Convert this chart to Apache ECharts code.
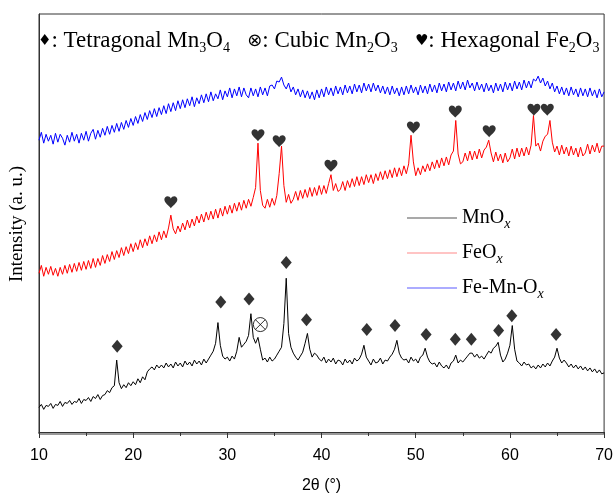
<!DOCTYPE html>
<html>
<head>
<meta charset="utf-8">
<script src="https://cdn.jsdelivr.net/npm/echarts@6/dist/echarts.min.js"></script>
<style>
html,body{margin:0;padding:0;background:#fff;}
#chart{width:616px;height:499px;}
</style>
</head>
<body>
<div id="chart"></div>
<script>
// 2θ scan: start 10°, step 0.25°, 241 points to 70°
const scanStart = 10;
const scanStep = 0.25;

// MnOx (black), intensity a.u.
const mnOx = [
25,28,23,27, 26,29,24,28, 27,31,26,30, 29,32,28,31, 30,34,29,33,
32,35,31,36, 34,38,33,37, 38,42,40,45, 47,73,50,44, 48,45,50,47,
51,48,54,50, 56,53,61,64, 66,63,68,65, 68,65,70,66, 69,65,71,67,
70,66,72,68, 71,67,73,69, 72,68,74,70, 74,78,82,90, 111,88,77,74,
76,72,77,74, 82,96,86,89, 92,98,120,96, 90,96,84,73, 75,71,76,72,
74,78,82,86, 110,156,100,86, 80,76,73,77, 81,90,100,84, 76,80,78,74,
72,76,70,74, 71,75,69,73, 72,68,74,70, 73,69,75,72, 74,79,88,76,
72,68,74,70, 71,75,69,73, 72,76,79,84, 93,80,75,73, 74,70,76,72,
74,70,76,78, 85,76,71,69, 70,66,71,67, 65,68,64,70, 72,78,70,73,
71,74,77,80, 80,76,79,75, 77,74,78,82, 80,85,87,91, 78,71,74,80,
88,108,84,72, 70,67,71,68, 69,65,67,64, 68,65,69,66, 70,67,72,76,
85,75,70,73, 70,66,69,65, 68,64,67,63, 66,62,65,61, 64,60,63,59,
60
];

// FeOx (red)
const feOx = [
161,169,158,167, 160,168,159,166, 158,167,160,169, 161,170,162,171, 163,172,164,173,
165,174,166,176, 167,176,169,179, 171,180,173,183, 175,184,177,187, 179,188,181,191,
183,192,185,195, 187,196,189,199, 191,200,193,203, 195,204,197,207, 220,206,201,209,
203,212,205,215, 207,216,209,219, 212,221,213,223, 215,224,216,226, 217,227,219,229,
221,230,222,232, 224,233,225,235, 227,236,229,238, 248,293,245,230, 227,236,228,237,
230,240,262,290, 250,233,241,232, 236,244,235,245, 237,246,238,248, 239,248,240,250,
241,250,242,252, 261,245,252,244, 246,254,245,255, 248,257,249,259, 250,259,251,261,
253,261,252,262, 255,264,256,265, 257,266,258,268, 259,268,260,270, 262,272,301,274,
260,268,261,270, 264,272,265,274, 267,276,268,278, 270,279,271,281, 285,316,282,272,
274,283,275,285, 276,285,277,287, 278,286,289,296, 283,274,284,275, 282,273,283,274,
278,287,277,288, 279,288,280,289, 281,291,321,290, 293,285,295,300, 302,316,294,284,
290,281,291,282, 289,280,290,281, 288,279,289,280, 283,292,282,291, 284,293,283,290,
290
];

// Fe-Mn-Ox (blue)
const feMnOx = [
296,304,293,302, 295,301,292,303, 294,302,298,291, 301,294,304,295, 302,293,303,296,
305,295,303,307, 297,306,299,308, 301,310,302,311, 304,313,305,314, 307,316,309,318,
311,320,313,322, 315,324,317,326, 319,328,320,329, 322,331,323,333, 325,334,326,336,
328,337,329,338, 331,340,330,339, 333,342,334,343, 335,345,336,343, 338,347,337,346,
340,349,339,348, 341,350,340,349, 342,339,349,341, 348,340,350,342, 349,341,351,352,
348,356,355,360, 352,348,354,345, 350,342,348,340, 347,339,346,338, 345,337,347,339,
348,340,350,342, 349,341,351,343, 350,342,352,344, 351,343,353,345, 352,344,354,346,
353,345,354,346, 352,344,351,343, 350,342,351,343, 349,341,350,342, 351,343,352,344,
350,342,352,344, 351,343,353,345, 352,344,354,346, 353,345,355,347, 354,346,356,348,
355,347,357,349, 354,346,355,347, 353,345,354,346, 352,344,354,346, 353,345,355,347,
354,346,356,348, 355,347,357,349, 356,349,358,356, 361,354,359,351, 356,348,354,345,
351,343,350,342, 349,341,350,342, 348,340,349,341, 348,340,349,341, 347,339,348,340,
345
];

// Phase markers [2θ, intensity]
const tetragonalMn3O4 = [[18.3,87],[29.3,132],[32.3,135],[36.25,172],[38.4,114],[44.8,104],[47.8,108],[51.1,99],[54.2,94],[55.9,94],[58.8,103],[60.2,118],[64.9,99]];
const cubicMn2O3 = [[33.5,109]];
const hexagonalFe2O3 = [[24.0,233],[33.25,301],[35.5,295],[41.0,270],[49.75,309],[54.2,325],[57.8,305],[62.55,327],[63.97,327]];

const seriesNames = ['MnOx','FeOx','Fe-Mn-Ox'];
const seriesColors = ['#000000','#ff0000','#0000ff'];
const legendLineColors = ['#8c8c8c','#ffb0b0','#9090ff'];

const toPairs = arr => arr.map((v,i) => [scanStart + i*scanStep, v]);

const serif = "'Liberation Serif','Times New Roman',serif";
const sans = "'Liberation Sans',Arial,sans-serif";

const heart = 'path://M12,21 C9,17 1,12 1,6.5 C1,3.2 3.5,1 6.3,1 C8.8,1 10.9,2.5 12,4.8 C13.1,2.5 15.2,1 17.7,1 C20.5,1 23,3.2 23,6.5 C23,12 15,17 12,21 Z';
const otimes = 'path://M0,10 A10,10 0 1,1 20,10 A10,10 0 1,1 0,10 Z M2.9,2.9 L17.1,17.1 M17.1,2.9 L2.9,17.1';

const chart = echarts.init(document.getElementById('chart'), null, {renderer:'canvas'});

const richTop = {
  n: {fontFamily: serif, fontSize: 23, fontWeight: 'normal', color:'#000', lineHeight: 28},
  s: {fontFamily: serif, fontSize: 14, fontWeight: 'normal', color:'#000', lineHeight: 12, verticalAlign:'bottom'},
  g: {fontFamily: "'DejaVu Sans',sans-serif", fontSize: 15, fontWeight: 'normal', color:'#000', lineHeight: 28},
  c: {fontFamily: "'DejaVu Sans',sans-serif", fontSize: 18, fontWeight: 'normal', color:'#000', lineHeight: 28}
};
const richLegend = {
  n: {fontFamily: serif, fontSize: 20, color:'#000', lineHeight: 26},
  x: {fontFamily: serif, fontSize: 14, fontStyle:'italic', color:'#000', lineHeight: 12, verticalAlign:'bottom'}
};

const option = {
  animation: false,
  backgroundColor: '#fff',
  title: {
    left: 38, top: 27, padding: 0,
    text: '{g|♦}{n|: Tetragonal Mn}{s|3}{n|O}{s|4}{n|   }{c|⊗}{n|: Cubic Mn}{s|2}{n|O}{s|3}{n|   }{g|♥}{n|: Hexagonal Fe}{s|2}{n|O}{s|3}',
    textStyle: {fontWeight: 'normal', rich: richTop}
  },
  legend: {
    orient: 'vertical',
    left: 407, top: 208, padding: 0,
    itemWidth: 50, itemHeight: 1.5, itemGap: 12,
    icon: 'rect',
    data: seriesNames.map((n,i) => ({name: n, itemStyle:{color: legendLineColors[i]}, lineStyle:{color: legendLineColors[i]}})),
    formatter: name => '{n|' + name.slice(0, -1) + '}{x|x}',
    textStyle: {rich: richLegend}
  },
  grid: {left: 36, right: 11, top: 14, bottom: 59, show: true, borderColor: '#333', borderWidth: 1},
  xAxis: {
    type: 'value', min: 10, max: 70, interval: 10,
    axisLine: {lineStyle: {color: '#333', width: 1}},
    axisTick: {show: true, inside: false, length: 6, lineStyle: {color:'#333'}},
    minorTick: {show: true, splitNumber: 2, length: 4, lineStyle: {color:'#333'}},
    splitLine: {show: false},
    axisLabel: {fontFamily: sans, fontSize: 16, color: '#000', margin: 14},
    name: '2θ (°)', nameLocation: 'middle', nameGap: 44,
    nameTextStyle: {fontFamily: sans, fontSize: 16, color: '#000'}
  },
  yAxis: {
    type: 'value', min: -2, max: 424,
    axisLine: {show: true, lineStyle: {color: '#333', width: 1}},
    axisTick: {show: false}, axisLabel: {show: false}, splitLine: {show: false},
    name: 'Intensity (a. u.)', nameLocation: 'middle', nameGap: 12, nameRotate: 90,
    nameTextStyle: {fontFamily: serif, fontSize: 19, color: '#000'}
  },
  series: [
    ...[mnOx, feOx, feMnOx].map((arr,i) => ({
      name: seriesNames[i], type: 'line', data: toPairs(arr), showSymbol: false,
      lineStyle: {color: seriesColors[i], width: 1}, itemStyle: {color: seriesColors[i]},
      z: 2
    })),
    {type: 'scatter', data: tetragonalMn3O4, symbol: 'diamond', symbolSize: [11, 13], itemStyle: {color: '#000'}, z: 5},
    {type: 'scatter', data: hexagonalFe2O3, symbol: heart, symbolSize: [13, 12], itemStyle: {color: '#000'}, z: 5},
    {type: 'scatter', data: cubicMn2O3, symbol: otimes, symbolSize: 14, itemStyle: {color: 'rgba(0,0,0,0)', borderColor: '#000', borderWidth: 1}, z: 5}
  ]
};
chart.setOption(option);
</script>
</body>
</html>
